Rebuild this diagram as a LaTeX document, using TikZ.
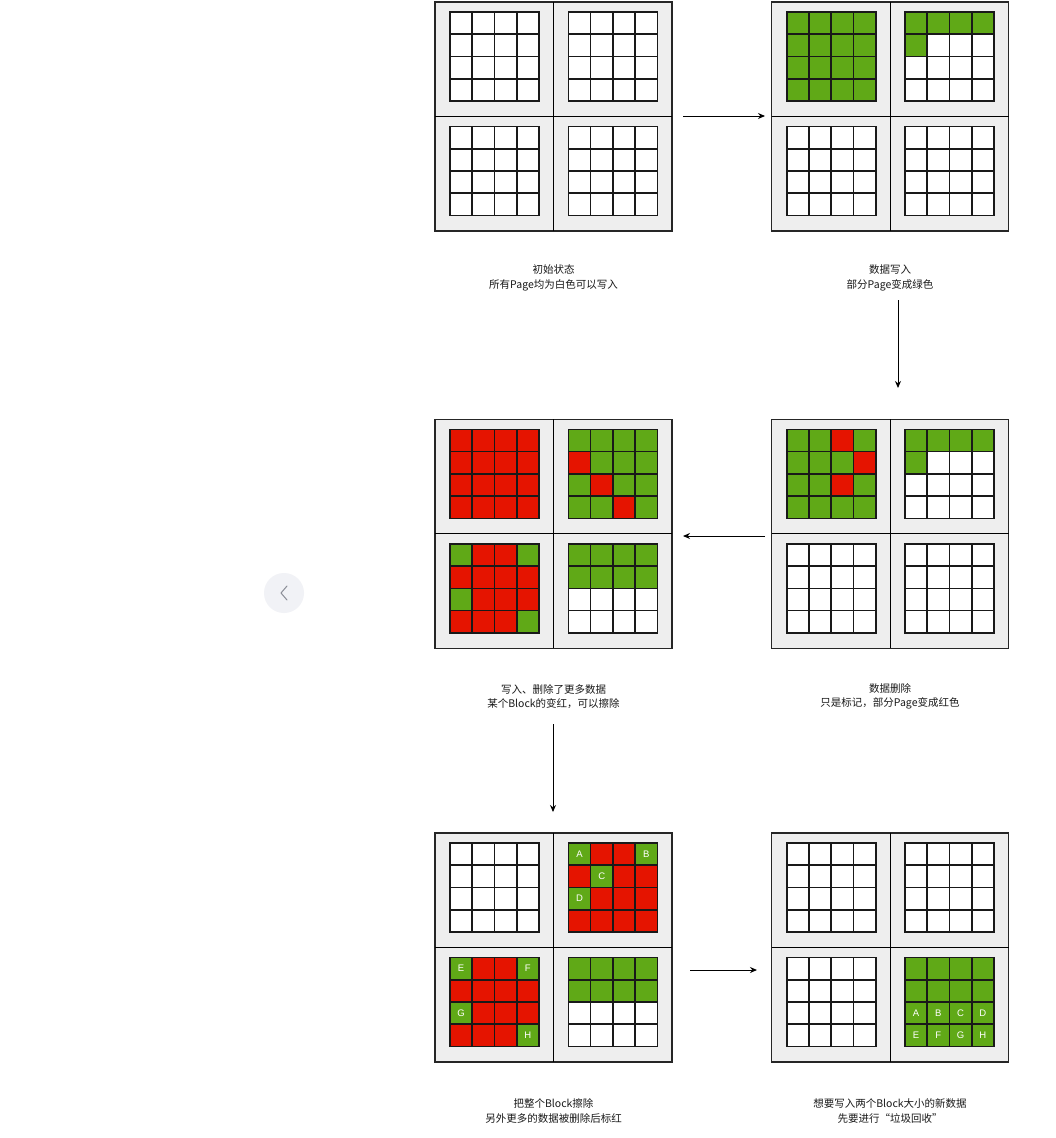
\documentclass[tikz,border=0pt]{standalone}
\usepackage{fontspec}
\setmainfont{Liberation Sans}
\newfontfamily\cjk{Noto Sans CJK SC}
\usetikzlibrary{arrows.meta}
\definecolor{cg}{HTML}{60A917}
\definecolor{cr}{HTML}{E51400}
\definecolor{cw}{HTML}{FFFFFF}
\definecolor{pgray}{HTML}{EEEEEE}
\definecolor{btnfill}{HTML}{F1F2F6}
\definecolor{btnline}{HTML}{8A8D96}
\tikzset{
  panel/.style={draw=black!85, line width=1.2pt, fill=pgray, anchor=north west,
    minimum width=237pt, minimum height=229pt, inner sep=0pt, outer sep=0pt},
  divline/.style={draw=black, line width=1.2pt},
  gridline/.style={draw=black!90, line width=1.6pt},
  caption/.style={align=center, font=\cjk\fontsize{10.5}{14.5}\selectfont, text=black!90},
  cellletter/.style={text=white, font=\fontsize{9.5}{10}\selectfont, inner sep=0pt},
  flow/.style={draw=black, line width=1pt, -{Stealth[length=7pt,width=6pt]}}
}
\newcommand\qgrid[3]{%
  \edef\tmplist{#3}%
  \foreach \c [count=\i from 0] in \tmplist{%
    \pgfmathtruncatemacro\rr{floor(\i/4)}%
    \pgfmathtruncatemacro\cc{mod(\i,4)}%
    \fill[\c] ({#1+\cc*22.25},{#2+\rr*22.25}) rectangle ++(22.25,22.25);
  }%
  \foreach \k in {1,2,3}{%
    \draw[gridline] ({#1+\k*22.25},{#2}) -- ++(0,89);
    \draw[gridline] ({#1},{#2+\k*22.25}) -- ++(89,0);
  }%
  \draw[gridline] ({#1},{#2}) rectangle ++(89,89);
}
\newcommand\blockpanel[7]{%
  \node[panel] (#1) at (#2,#3) {};
  \draw[divline] ({#2+118.5},{#3}) -- ++(0,229);
  \draw[divline] ({#2},{#3+114.5}) -- ++(237,0);
  \qgrid{#2+15}{#3+10}{#4}
  \qgrid{#2+133.3}{#3+10}{#5}
  \qgrid{#2+15}{#3+124.5}{#6}
  \qgrid{#2+133.3}{#3+124.5}{#7}
}
% letter in cell: grid x, grid y, row, col, name, letter
\newcommand\cellchar[6]{%
  \node[cellletter] (#5) at ({#1+(#4+0.5)*22.25},{#2+(#3+0.5)*22.25}) {#6};
}
\def\AW{cw,cw,cw,cw,cw,cw,cw,cw,cw,cw,cw,cw,cw,cw,cw,cw}
\def\AG{cg,cg,cg,cg,cg,cg,cg,cg,cg,cg,cg,cg,cg,cg,cg,cg}
\def\AR{cr,cr,cr,cr,cr,cr,cr,cr,cr,cr,cr,cr,cr,cr,cr,cr}
\def\PartG{cg,cg,cg,cg,cg,cw,cw,cw,cw,cw,cw,cw,cw,cw,cw,cw}
\def\HalfG{cg,cg,cg,cg,cg,cg,cg,cg,cw,cw,cw,cw,cw,cw,cw,cw}
\begin{document}
\begin{tikzpicture}[x=1pt,y=-1pt]
\useasboundingbox (0,0) rectangle (1056,1138);
\fill[white] (0,0) rectangle (1056,1138);

% row 1
\blockpanel{p1}{435}{2}{\AW}{\AW}{\AW}{\AW}
\blockpanel{p2}{771.7}{2}{\AG}{\PartG}{\AW}{\AW}
% row 2
\blockpanel{p3}{435}{419.3}{\AR}{cg,cg,cg,cg,cr,cg,cg,cg,cg,cr,cg,cg,cg,cg,cr,cg}{cg,cr,cr,cg,cr,cr,cr,cr,cg,cr,cr,cr,cr,cr,cr,cg}{\HalfG}
\blockpanel{p4}{771.7}{419.3}{cg,cg,cr,cg,cg,cg,cg,cr,cg,cg,cr,cg,cg,cg,cg,cg}{\PartG}{\AW}{\AW}
% row 3
\blockpanel{p5}{435}{833}{\AW}{cg,cr,cr,cg,cr,cg,cr,cr,cg,cr,cr,cr,cr,cr,cr,cr}{cg,cr,cr,cg,cr,cr,cr,cr,cg,cr,cr,cr,cr,cr,cr,cg}{\HalfG}
\blockpanel{p6}{771.7}{833}{\AW}{\AW}{\AW}{\AG}

% letters in p5
\cellchar{568.3}{843}{0}{0}{la}{A}
\cellchar{568.3}{843}{0}{3}{lb}{B}
\cellchar{568.3}{843}{1}{1}{lc}{C}
\cellchar{568.3}{843}{2}{0}{ld}{D}
\cellchar{450}{957.5}{0}{0}{le}{E}
\cellchar{450}{957.5}{0}{3}{lf}{F}
\cellchar{450}{957.5}{2}{0}{lg}{G}
\cellchar{450}{957.5}{3}{3}{lh}{H}
% letters in p6
\cellchar{905}{957.5}{2}{0}{ma}{A}
\cellchar{905}{957.5}{2}{1}{mb}{B}
\cellchar{905}{957.5}{2}{2}{mc}{C}
\cellchar{905}{957.5}{2}{3}{md}{D}
\cellchar{905}{957.5}{3}{0}{me}{E}
\cellchar{905}{957.5}{3}{1}{mf}{F}
\cellchar{905}{957.5}{3}{2}{mg}{G}
\cellchar{905}{957.5}{3}{3}{mh}{H}

% captions
\node[caption] (c1) at (553.5,278) {初始状态\\所有Page均为白色可以写入};
\node[caption] (c2) at (890,278) {数据写入\\部分Page变成绿色};
\node[caption] (c3) at (553.5,696.5) {写入、删除了更多数据\\某个Block的变红，可以擦除};
\node[caption] (c4) at (890,696.5) {数据删除\\只是标记，部分Page变成红色};
\node[caption] (c5) at (553.5,1111) {把整个Block擦除\\另外更多的数据被删除后标红};
\node[caption] (c6) at (890,1111) {想要写入两个Block大小的新数据\\先要进行“垃圾回收”};

% connectors
\coordinate (a1s) at (683,116);
\coordinate (a1e) at (765,116);
\coordinate (a2s) at (898,300);
\coordinate (a2e) at (898,388);
\coordinate (a3s) at (765,536);
\coordinate (a3e) at (683,536);
\coordinate (a4s) at (553,724);
\coordinate (a4e) at (553,812);
\coordinate (a5s) at (690,970);
\coordinate (a5e) at (757,970);
\draw[flow] (a1s) -- (a1e);
\draw[flow] (a2s) -- (a2e);
\draw[flow] (a3s) -- (a3e);
\draw[flow] (a4s) -- (a4e);
\draw[flow] (a5s) -- (a5e);

% side button
\node[circle, fill=btnfill, minimum size=40pt, inner sep=0pt] (btn) at (284,593) {};
\draw[btnline, line width=1pt, line cap=round, line join=round]
  ([shift={(3,-7)}]btn.center) -- ([shift={(-3,0)}]btn.center) -- ([shift={(3,7)}]btn.center);
\end{tikzpicture}
\end{document}
